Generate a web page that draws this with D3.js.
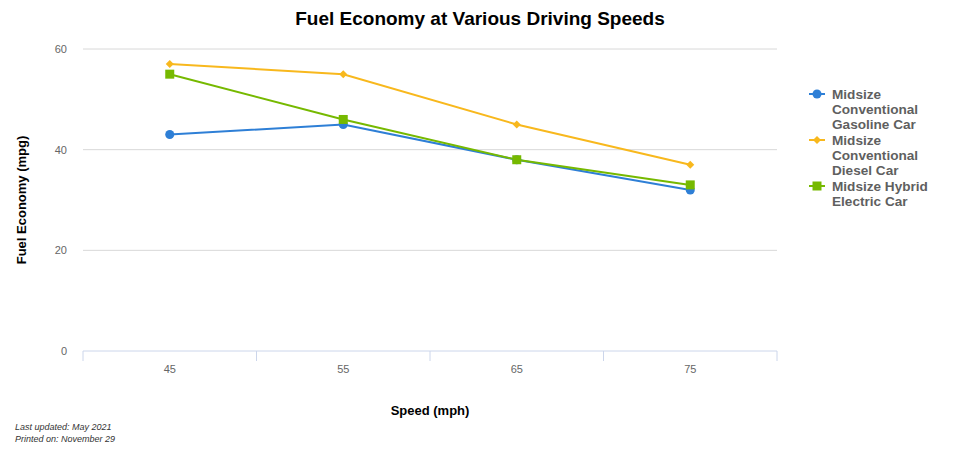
<!DOCTYPE html>
<html>
<head>
<meta charset="utf-8">
<script src="https://cdn.jsdelivr.net/npm/d3@7"></script>
<style>
  body { margin: 0; background: #fff; font-family: "Liberation Sans", Arial, sans-serif; }
</style>
</head>
<body>
<div id="chart"></div>
<script>
// Data
const speeds = ["45", "55", "65", "75"];
const gasoline = [43, 45, 38, 32];
const diesel = [57, 55, 45, 37];
const hybrid = [55, 46, 38, 33];
const yTicks = [0, 20, 40, 60];

const series = [
  { name: ["Midsize", "Conventional", "Gasoline Car"], values: gasoline, color: "#2e7fd6", symbol: d3.symbolCircle, size: 64, rot: 0 },
  { name: ["Midsize", "Conventional", "Diesel Car"], values: diesel, color: "#f8b81d", symbol: d3.symbolSquare, size: 32, rot: 45 },
  { name: ["Midsize Hybrid", "Electric Car"], values: hybrid, color: "#76b900", symbol: d3.symbolSquare, size: 81, rot: 0 }
];

const W = 960, H = 452;
const margin = { top: 49, right: 183, bottom: 101, left: 83 };
const width = W - margin.left - margin.right;
const height = H - margin.top - margin.bottom;

const svg = d3.select("#chart").append("svg")
    .attr("width", W)
    .attr("height", H);

// Title
svg.append("text")
    .attr("x", 480)
    .attr("y", 25)
    .attr("text-anchor", "middle")
    .style("font-size", "19px")
    .style("font-weight", "bold")
    .attr("fill", "#000")
    .text("Fuel Economy at Various Driving Speeds");

const g = svg.append("g")
    .attr("transform", `translate(${margin.left},${margin.top})`);

// Scales
const x = d3.scaleBand().domain(speeds).range([0, width]);
const y = d3.scaleLinear().domain([0, 60]).range([height, 0]);

// Grid lines
g.selectAll(".grid")
  .data(yTicks.filter(d => d > 0))
  .join("line")
    .attr("x1", 0)
    .attr("x2", width)
    .attr("y1", d => y(d))
    .attr("y2", d => y(d))
    .attr("stroke", "#d8d8d8")
    .attr("stroke-width", 1);

// Y axis labels
g.selectAll(".ylab")
  .data(yTicks)
  .join("text")
    .attr("x", -16)
    .attr("y", d => y(d) + 4)
    .attr("text-anchor", "end")
    .style("font-size", "11px")
    .attr("fill", "#666")
    .text(d => d);

// X axis
const xAxis = g.append("g")
    .attr("transform", `translate(0,${height})`);
xAxis.append("line")
    .attr("x1", 0).attr("x2", width)
    .attr("stroke", "#ccd6eb");
const bounds = speeds.map(d => x(d)).concat([width]);
xAxis.selectAll(".tick")
  .data(bounds)
  .join("line")
    .attr("x1", d => d).attr("x2", d => d)
    .attr("y1", 0).attr("y2", 10)
    .attr("stroke", "#ccd6eb");
xAxis.selectAll(".xlab")
  .data(speeds)
  .join("text")
    .attr("x", d => x(d) + x.bandwidth() / 2)
    .attr("y", 22)
    .attr("text-anchor", "middle")
    .style("font-size", "11px")
    .attr("fill", "#666")
    .text(d => d);

// Axis titles
svg.append("text")
    .attr("x", margin.left + width / 2)
    .attr("y", 415)
    .attr("text-anchor", "middle")
    .style("font-size", "13px")
    .style("font-weight", "bold")
    .text("Speed (mph)");

svg.append("text")
    .attr("transform", `translate(26,${margin.top + height / 2}) rotate(-90)`)
    .attr("text-anchor", "middle")
    .style("font-size", "13px")
    .style("font-weight", "bold")
    .text("Fuel Economy (mpg)");

// Lines
const line = d3.line()
    .x((d, i) => x(speeds[i]) + x.bandwidth() / 2)
    .y(d => y(d));

series.forEach(s => {
  g.append("path")
    .datum(s.values)
    .attr("fill", "none")
    .attr("stroke", s.color)
    .attr("stroke-width", 2)
    .attr("d", line);
});

series.forEach(s => {
  g.selectAll(null)
    .data(s.values)
    .join("path")
      .attr("transform", (d, i) => `translate(${x(speeds[i]) + x.bandwidth() / 2},${y(d)}) rotate(${s.rot})`)
      .attr("d", d3.symbol().type(s.symbol).size(s.size))
      .attr("fill", s.color);
});

// Legend
const legend = svg.append("g").attr("transform", "translate(809,94)");
let ly = 0;
series.forEach(s => {
  const item = legend.append("g").attr("transform", `translate(0,${ly})`);
  item.append("line")
    .attr("x1", 0).attr("x2", 16)
    .attr("stroke", s.color)
    .attr("stroke-width", 2);
  item.append("path")
    .attr("transform", `translate(8,0) rotate(${s.rot})`)
    .attr("d", d3.symbol().type(s.symbol).size(s.size))
    .attr("fill", s.color);
  item.selectAll("text")
    .data(s.name)
    .join("text")
      .attr("x", 23)
      .attr("y", (d, i) => 5 + i * 15)
      .style("font-size", "13.6px")
      .style("font-weight", "bold")
      .attr("fill", "#5f5f5f")
      .text(d => d);
  ly += s.name.length * 15 + 1;
});

// Footnotes
const notes = ["Last updated: May 2021", "Printed on: November 29"];
svg.selectAll(".note")
  .data(notes)
  .join("text")
    .attr("x", 15)
    .attr("y", (d, i) => 430 + i * 12)
    .style("font-size", "9px")
    .style("font-style", "italic")
    .attr("fill", "#333")
    .text(d => d);
</script>
</body>
</html>
